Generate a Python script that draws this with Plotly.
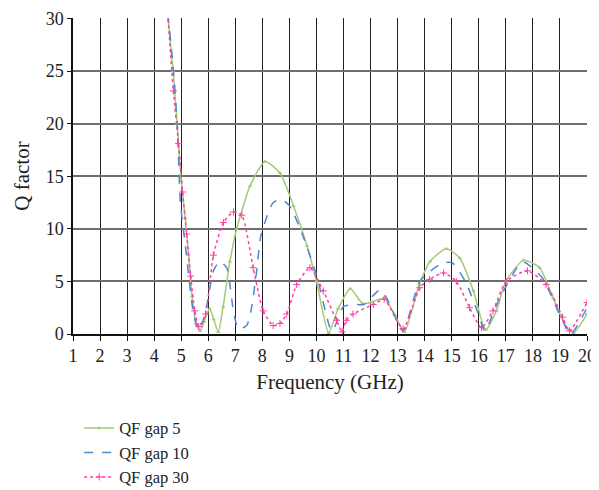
import plotly.graph_objects as go

# QF gap 5
x_gap5 = [4.5, 4.7, 4.85, 5.0, 5.15, 5.27, 5.4, 5.55, 5.7, 5.85, 6.05, 6.2, 6.37, 6.55, 6.8, 7.05, 7.55, 8.1, 8.65, 9.15, 9.65, 10.0, 10.45, 10.8, 11.25, 11.7, 12.0, 12.5, 12.9, 13.25, 13.8, 14.2, 14.8, 15.3, 15.8, 16.25, 16.65, 17.0, 17.65, 18.25, 18.75, 19.25, 19.5, 20.0]
q_gap5 = [30.5, 25.0, 20.0, 14.6, 11.0, 7.5, 3.6, 1.0, 0.3, 1.2, 2.4, 1.4, 0.2, 2.6, 6.9, 10.0, 14.1, 16.4, 15.3, 12.2, 8.4, 5.0, 0.1, 2.4, 4.3, 2.9, 3.0, 3.4, 1.8, 0.2, 4.7, 6.9, 8.1, 7.2, 4.1, 0.4, 2.2, 5.0, 7.0, 6.3, 3.4, 0.6, 0.1, 1.9]

# QF gap 10
x_gap10 = [4.5, 4.7, 4.85, 4.97, 5.15, 5.3, 5.45, 5.63, 5.8, 5.95, 6.19, 6.42, 6.68, 6.93, 7.11, 7.42, 7.6, 7.79, 7.95, 8.4, 8.7, 9.0, 9.4, 10.0, 10.5, 10.6, 11.0, 11.5, 11.75, 12.35, 12.6, 13.2, 13.82, 14.55, 15.0, 15.5, 16.03, 16.22, 16.77, 17.5, 17.7, 18.36, 18.98, 19.4, 20.0]
q_gap10 = [30.5, 25.5, 20.0, 12.5, 8.5, 5.0, 2.0, 0.4, 1.2, 2.8, 6.0, 6.9, 6.3, 2.2, 0.5, 0.8, 2.5, 6.0, 9.4, 12.5, 12.8, 12.2, 10.0, 5.6, 0.6, 0.3, 2.6, 2.8, 2.8, 4.2, 3.4, 0.3, 5.0, 6.6, 6.8, 5.0, 1.6, 0.3, 3.4, 6.6, 6.8, 5.3, 1.9, 0.0, 2.5]

# QF gap 30
x_gap30 = [4.5, 4.71, 4.9, 5.05, 5.2, 5.35, 5.5, 5.65, 5.9, 6.19, 6.56, 6.93, 7.24, 7.66, 8.03, 8.4, 8.65, 8.9, 9.27, 9.76, 10.25, 10.74, 10.95, 11.1, 11.35, 12.1, 12.5, 13.2, 13.82, 14.18, 14.7, 15.17, 15.66, 16.1, 16.52, 17.01, 17.8, 18.49, 19.1, 19.35, 20.0]
q_gap30 = [30.5, 23.1, 18.1, 13.5, 9.5, 5.5, 2.2, 0.7, 1.9, 7.5, 10.6, 11.6, 11.3, 6.3, 2.2, 0.8, 1.0, 1.9, 4.7, 6.3, 4.1, 1.3, 0.2, 1.3, 1.9, 2.8, 3.3, 0.5, 4.4, 5.2, 5.8, 5.0, 2.5, 0.6, 2.2, 5.0, 6.0, 4.7, 1.6, 0.3, 3.0]

x_ticks = list(range(1, 21))
y_ticks = [0, 5, 10, 15, 20, 25, 30]

FONT = "Liberation Serif"

fig = go.Figure()
fig.add_trace(go.Scatter(
    x=x_gap5, y=q_gap5, name="QF gap 5", mode="lines+markers",
    line=dict(color="#A3CA78", width=1.5, shape="spline", smoothing=0.6),
    marker=dict(symbol="triangle-up", size=4, color="#A3CA78"),
))
fig.add_trace(go.Scatter(
    x=x_gap10, y=q_gap10, name="QF gap 10", mode="lines",
    line=dict(color="#4F86CC", width=1.5, dash="dash", shape="spline", smoothing=0.6),
))
fig.add_trace(go.Scatter(
    x=x_gap30, y=q_gap30, name="QF gap 30", mode="lines+markers",
    line=dict(color="#FF3FA4", width=1.5, dash="dot", shape="spline", smoothing=0.6),
    marker=dict(symbol="cross-thin", size=5, color="#FF3FA4", line=dict(color="#FF3FA4", width=1)),
))

fig.update_layout(
    width=591, height=490,
    margin=dict(l=65, r=12, t=10, b=164, autoexpand=False),
    paper_bgcolor="white", plot_bgcolor="white",
    font=dict(family=FONT, size=18, color="#222"),
    showlegend=True,
    legend=dict(x=0.012, y=-0.243, xanchor="left", yanchor="top",
                orientation="v", font=dict(family=FONT, size=16.5, color="#222"),
                bgcolor="rgba(0,0,0,0)"),
)
fig.update_xaxes(
    range=[1, 20], tickvals=x_ticks, ticktext=[str(v) for v in x_ticks],
    showgrid=True, gridcolor="#222222", gridwidth=1.2,
    showline=True, linecolor="#111", linewidth=1.5,
    ticks="outside", ticklen=5, tickcolor="#111", tickwidth=1,
    zeroline=False,
    title=dict(text="Frequency (GHz)", font=dict(family=FONT, size=21), standoff=9),
    tickfont=dict(family=FONT, size=18),
)
fig.update_yaxes(
    range=[0, 30.04], tickvals=y_ticks,
    showgrid=True, gridcolor="#6e6e6e", gridwidth=1.6,
    showline=True, linecolor="#111", linewidth=1.5,
    ticks="outside", ticklen=4, tickcolor="#111", tickwidth=1,
    zeroline=False, ticklabeloverflow="allow",
    title=dict(text="Q factor", font=dict(family=FONT, size=21), standoff=10),
    tickfont=dict(family=FONT, size=18),
)

fig.write_html("out.html")
